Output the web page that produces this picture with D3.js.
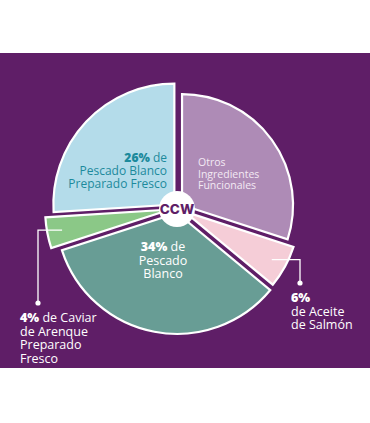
<!DOCTYPE html>
<html><head><meta charset="utf-8">
<script src="https://cdn.jsdelivr.net/npm/d3@7"></script>
<style>
html,body{margin:0;padding:0;background:#fff;}
svg{display:block;font-family:"Open Sans",sans-serif;}
</style></head>
<body>
<script>
// ---- data ----
const categories = ["Otros Ingredientes Funcionales","Aceite de Salmón","Pescado Blanco","Caviar de Arenque Preparado Fresco","Pescado Blanco Preparado Fresco"];
const values = [30, 6, 34, 4, 26];
const colors = ["#ae8bb6","#f5cdd7","#689d95","#8bc887","#b4dcea"];
// ---- style ----
const W = 370, H = 423;
const bg = "#5f1e67";
const cx = 178, cy = 208;
const explode = [5, 7, 5, 8, 5];
const radii = [111, 115, 121, 125, 121];

const svg = d3.select("body").append("svg").attr("width", W).attr("height", H);
svg.append("rect").attr("x",0).attr("y",0).attr("width",W).attr("height",H).attr("fill","#fff");
svg.append("rect").attr("x",0).attr("y",53).attr("width",W).attr("height",315).attr("fill",bg);

const pie = d3.pie().sort(null).value(d=>d);
const arcs = pie(values);
const g = svg.append("g").attr("transform",`translate(${cx},${cy})`);

function offset(a, i){
  const m = (a.startAngle + a.endAngle)/2;
  return [Math.sin(m)*explode[i], -Math.cos(m)*explode[i]];
}

arcs.forEach((a,i)=>{
  const [ox,oy] = offset(a,i);
  const arc = d3.arc().innerRadius(0).outerRadius(radii[i]);
  g.append("path").attr("d", arc(a)).attr("transform",`translate(${ox},${oy})`)
    .attr("fill", colors[i]).attr("stroke","#fff").attr("stroke-width",2.2).attr("stroke-linejoin","miter");
});

// center badge
g.append("circle").attr("cx",-1).attr("cy",1).attr("r",18).attr("fill","#fff");
g.append("text").attr("x",-1).attr("y",6).attr("text-anchor","middle")
  .attr("font-size",13.5).attr("font-weight",800).attr("fill",bg).attr("font-family","Inter, 'Open Sans', sans-serif").text("CCW");

// helper for multi-line label: each run is its own <text>, laid out by measured width
function label(x, y, anchor, lines, color, size, lh){
  lines.forEach((ln,k)=>{
    const yy = y + k*lh;
    const nodes = ln.map(part => svg.append("text").attr("y",yy).attr("fill",color)
      .attr("font-size",size).attr("font-weight", part.b?800:500)
      .attr("xml:space","preserve").style("white-space","pre").text(part.t));
    const widths = nodes.map(n => n.node().getComputedTextLength());
    const total = d3.sum(widths);
    let start = anchor==="start" ? x : anchor==="end" ? x - total : x - total/2;
    nodes.forEach((n,j)=>{ n.attr("x", start); start += widths[j]; });
  });
}
const pct = i => values[i] + "%";

// Otros
label(198, 166, "start", [[{t:"Otros"}],[{t:"Ingredientes"}],[{t:"Funcionales"}]], "#f3e9f4", 10.5, 11.5);
// 26%
label(167, 162, "end", [[{t:pct(4),b:true},{t:" de"}],[{t:"Pescado Blanco"}],[{t:"Preparado Fresco"}]], "#1c8a9c", 12, 13);
// 34%
label(163, 251, "middle", [[{t:pct(2),b:true},{t:" de"}],[{t:"Pescado"}],[{t:"Blanco"}]], "#ffffff", 12.5, 13.5);
// 6%
label(291, 302, "start", [[{t:pct(1),b:true}],[{t:"de Aceite"}],[{t:"de Salmón"}]], "#ffffff", 12.5, 13.5);
// 4%
label(20, 322, "start", [[{t:pct(3),b:true},{t:" de Caviar"}],[{t:"de Arenque"}],[{t:"Preparado"}],[{t:"Fresco"}]], "#ffffff", 12.5, 13.5);

// leader lines (anchored inside the small slices)
function leader(i, rIn, xElbow, yDot){
  const a = arcs[i];
  const [ox,oy] = offset(a,i);
  const m = (a.startAngle + a.endAngle)/2;
  const px = cx + ox + Math.sin(m)*rIn, py = cy + oy - Math.cos(m)*rIn;
  svg.append("path").attr("d",`M${px},${py}H${xElbow}V${yDot}`)
    .attr("fill","none").attr("stroke","#fff").attr("stroke-width",1.3);
  svg.append("circle").attr("cx",xElbow).attr("cy",yDot).attr("r",2.6).attr("fill","#fff");
}
leader(1, 100, 300, 283);
leader(3, 110, 38, 303);
</script>
</body></html>
